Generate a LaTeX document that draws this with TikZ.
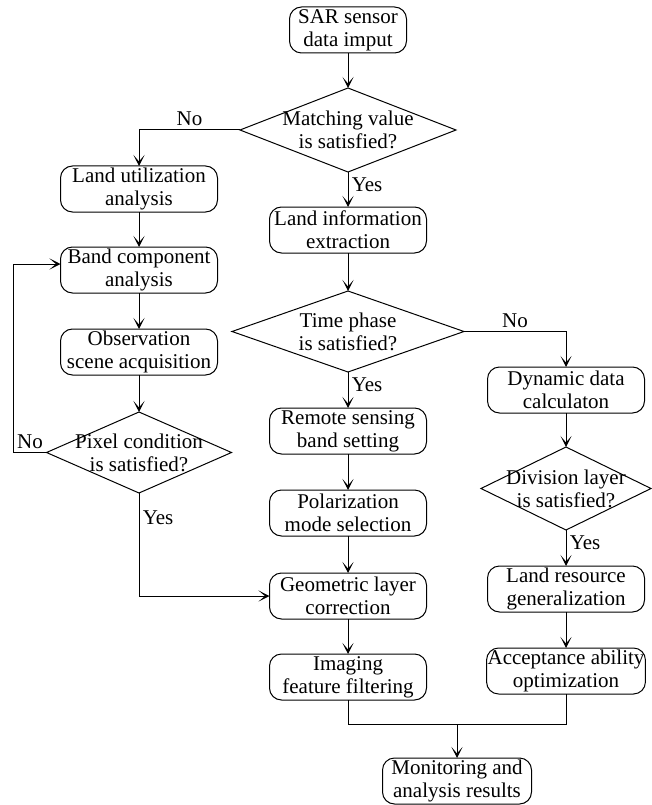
\documentclass[tikz,border=0pt]{standalone}
\usepackage{fontspec}
\setmainfont{Liberation Serif}
\usepackage{tikz}
\usetikzlibrary{arrows.meta,positioning,shapes.geometric}

\begin{document}
\begin{tikzpicture}[
  font=\fontsize{21}{23}\selectfont,
  procbox/.style={draw, line width=1pt, rounded corners=12pt, minimum width=157pt, minimum height=46pt, inner xsep=1pt, inner ysep=1pt, outer sep=0pt, align=center},
  decbox/.style={draw, line width=1pt, diamond, aspect=2.5, inner sep=-8pt, outer sep=0pt, align=center},
  link/.style={line width=1pt},
  flow/.style={link, -{Stealth[length=11pt, width=11pt, inset=6.5pt]}}
]
\useasboundingbox (0,0) rectangle (651pt,-805pt);

\node[procbox, minimum width=117pt] (sar) at (348pt,-30pt) {SAR sensor\\data imput};
\node[decbox, below=35pt of sar, minimum width=216pt, minimum height=84pt] (match) {Matching value\\is satisfied?};
\node[procbox, below=35pt of match] (info) {Land information\\extraction};
\node[decbox, below=38pt of info, minimum width=232pt, minimum height=81pt] (time) {Time phase\\is satisfied?};
\node[procbox, below=36pt of time] (remote) {Remote sensing\\band setting};
\node[procbox, below=36pt of remote] (polar) {Polarization\\mode selection};
\node[procbox, below=37pt of polar] (geom) {Geometric layer\\correction};
\node[procbox, below=35pt of geom] (imaging) {Imaging\\feature filtering};

\node[procbox, below=36pt of match.west, xshift=-101pt] (landuse) {Land utilization\\analysis};
\node[procbox, below=35pt of landuse] (band) {Band component\\analysis};
\node[procbox, below=36pt of band] (obs) {Observation\\scene acquisition};
\node[decbox, below=37pt of obs, minimum width=185pt, minimum height=81pt] (pixel) {Pixel condition\\is satisfied?};

\node[procbox, below=35.5pt of time.east, xshift=102pt] (dyn) {Dynamic data\\calculaton};
\node[decbox, below=34pt of dyn, minimum width=170pt, minimum height=83pt] (division) {Division layer\\is satisfied?};
\node[procbox, below=36pt of division] (landres) {Land resource\\generalization};
\node[procbox, below=36pt of landres] (accept) {Acceptance ability\\optimization};

\node[procbox, below=58pt of imaging.south, xshift=109pt, minimum width=149pt] (monitor) {Monitoring and\\analysis results};

\draw[flow] (sar) -- (match);
\draw[flow] (match) -- node[right, pos=0.37] {Yes} (info);
\draw[flow] (match.west) -| node[pos=0.25, above] {No} (landuse.north);
\draw[flow] (landuse) -- (band);
\draw[flow] (band) -- (obs);
\draw[flow] (obs) -- (pixel);
\draw[flow] (pixel.west) -- node[above] {No} ++(-33pt,0) |- ([yshift=6pt]band.west);
\draw[flow] (pixel.south) |- node[pos=0.12, right] {Yes} (geom.west);

\draw[flow] (info) -- (time);
\draw[flow] (time) -- node[right, pos=0.36] {Yes} (remote);
\draw[flow] (time.east) -| node[pos=0.25, above] {No} (dyn.north);
\draw[flow] (remote) -- (polar);
\draw[flow] (polar) -- (geom);
\draw[flow] (geom) -- (imaging);

\draw[flow] (dyn) -- (division);
\draw[flow] (division) -- node[right, pos=0.36] {Yes} (landres);
\draw[flow] (landres) -- (accept);

\path (imaging.south) ++(0,-24pt) coordinate (merge);
\draw[link] (imaging.south) -- (merge) -| (accept.south);
\draw[flow] (merge -| monitor.north) -- (monitor.north);
\end{tikzpicture}
\end{document}
